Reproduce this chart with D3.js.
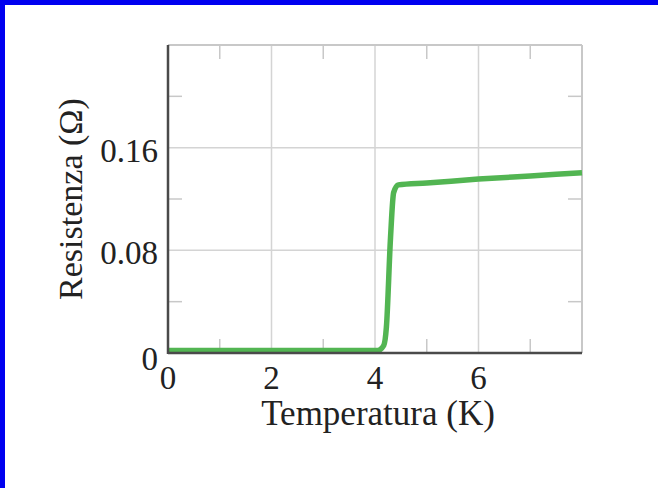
<!DOCTYPE html>
<html>
<head>
<meta charset="utf-8">
<script src="https://cdn.jsdelivr.net/npm/d3@7"></script>
<style>
  body { margin: 0; background: #fff; }
  svg { display: block; }
  text { font-family: "Liberation Serif", "Times New Roman", serif; fill: #222; }
</style>
</head>
<body>
<svg id="chart"></svg>
<script>
// curve: temperature (K) and resistance (ohm)
const temperature = [0, 4.05, 4.17, 4.22, 4.3, 4.36, 4.45, 5, 6, 7, 8];
const resistance = [0.002, 0.002, 0.006, 0.02, 0.09, 0.125, 0.131, 0.1325, 0.1355, 0.138, 0.1405];

const xMajor = [0, 2, 4, 6];
const xMinor = [1, 3, 5, 7];
const yMajor = [0, 0.08, 0.16];
const yMinor = [0.04, 0.12, 0.2];
const yLabels = ['0', '0.08', '0.16'];

const W = 658, H = 488;
const m = {left: 168, top: 45, right: 76, bottom: 135};

const svg = d3.select('#chart').attr('width', W).attr('height', H);

// blue frame, top and left only
svg.append('rect').attr('x', 0).attr('y', 0).attr('width', W).attr('height', 5).attr('fill', '#0000f0');
svg.append('rect').attr('x', 0).attr('y', 0).attr('width', 5).attr('height', H).attr('fill', '#0000f0');

const x = d3.scaleLinear().domain([0, 8]).range([m.left, W - m.right]);
const y = d3.scaleLinear().domain([0, 0.24]).range([H - m.bottom, m.top]);

const g = svg.append('g');

// grid
g.selectAll('.gx').data(xMajor.filter(d => d > 0)).enter().append('line')
  .attr('x1', d => x(d)).attr('x2', d => x(d)).attr('y1', y(0)).attr('y2', y(0.24))
  .attr('stroke', '#d4d4d4').attr('stroke-width', 1.5);
g.selectAll('.gy').data(yMajor.filter(d => d > 0)).enter().append('line')
  .attr('x1', x(0)).attr('x2', x(8)).attr('y1', d => y(d)).attr('y2', d => y(d))
  .attr('stroke', '#d4d4d4').attr('stroke-width', 1.5);

// minor ticks, inward on all four sides
const tk = 14;
xMinor.forEach(d => {
  g.append('line').attr('x1', x(d)).attr('x2', x(d)).attr('y1', y(0)).attr('y2', y(0) - tk)
    .attr('stroke', '#c8c8c8').attr('stroke-width', 1.5);
  g.append('line').attr('x1', x(d)).attr('x2', x(d)).attr('y1', y(0.24)).attr('y2', y(0.24) + tk)
    .attr('stroke', '#c8c8c8').attr('stroke-width', 1.5);
});
yMinor.forEach(d => {
  g.append('line').attr('x1', x(0)).attr('x2', x(0) + tk).attr('y1', y(d)).attr('y2', y(d))
    .attr('stroke', '#c8c8c8').attr('stroke-width', 1.5);
  g.append('line').attr('x1', x(8)).attr('x2', x(8) - tk).attr('y1', y(d)).attr('y2', y(d))
    .attr('stroke', '#c8c8c8').attr('stroke-width', 1.5);
});

// frame: light top/right, dark left/bottom
g.append('line').attr('x1', x(0)).attr('x2', x(8)).attr('y1', y(0.24)).attr('y2', y(0.24))
  .attr('stroke', '#c8c8c8').attr('stroke-width', 2);
g.append('line').attr('x1', x(8)).attr('x2', x(8)).attr('y1', y(0)).attr('y2', y(0.24))
  .attr('stroke', '#c8c8c8').attr('stroke-width', 2);

// the curve
const pts = temperature.map((t, i) => [t, resistance[i]]);
const line = d3.line().x(d => x(d[0])).y(d => y(d[1])).curve(d3.curveMonotoneX);
g.append('path').datum(pts).attr('d', line)
  .attr('fill', 'none').attr('stroke', '#52b552').attr('stroke-width', 5.5)
  .attr('stroke-linejoin', 'round').attr('stroke-linecap', 'butt');

g.append('line').attr('x1', x(0)).attr('x2', x(0)).attr('y1', y(0) + 1).attr('y2', y(0.24))
  .attr('stroke', '#4a4a4a').attr('stroke-width', 2.5);
g.append('line').attr('x1', x(0)).attr('x2', x(8)).attr('y1', y(0)).attr('y2', y(0))
  .attr('stroke', '#4a4a4a').attr('stroke-width', 2.5);

// tick labels
const fs = 33;
g.selectAll('.xl').data(xMajor).enter().append('text')
  .attr('x', d => x(d)).attr('y', y(0) + 36)
  .attr('text-anchor', 'middle').style('font-size', fs + 'px')
  .text(d => d);
g.selectAll('.yl').data(yMajor).enter().append('text')
  .attr('x', x(0) - 10).attr('y', d => y(d) + (d === 0 ? 17 : 14))
  .attr('text-anchor', 'end').style('font-size', fs + 'px')
  .text((d, i) => yLabels[i]);

// axis titles
svg.append('text').attr('x', (x(0) + x(8)) / 2 + 3).attr('y', 425)
  .attr('text-anchor', 'middle').style('font-size', '35px')
  .text('Temperatura (K)');
svg.append('text').attr('transform', 'translate(82,199) rotate(-90)')
  .attr('text-anchor', 'middle').style('font-size', '34px')
  .text('Resistenza (Ω)');
</script>
</body>
</html>
